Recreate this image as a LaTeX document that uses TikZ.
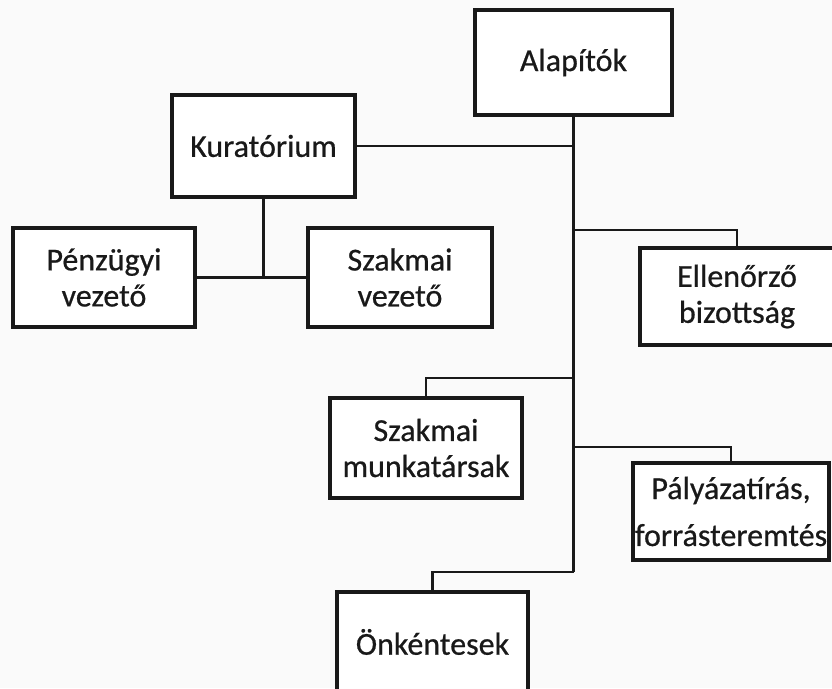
\documentclass[tikz,border=0pt]{standalone}
\usepackage{fontspec}
\setmainfont{Carlito}
\newfontfamily\lblfont{Carlito}[FakeBold=0.6]
\begin{document}
\begin{tikzpicture}[x=1pt,y=-1pt,
  box/.style={draw=black!90, line width=3.4pt, fill=white, rectangle, inner sep=0pt,
    align=center, font=\lblfont\fontsize{32}{36}\selectfont, text=black!90},
  conn/.style={draw=black!90, line width=2.6pt}]
\useasboundingbox (0,0) rectangle (832,688);
\clip (0,0) rectangle (832,688);
\fill[white!96!gray] (0,0) rectangle (832,688);
% nodes
\node[box, minimum width=197pt, minimum height=105pt] (alap) at (573.5,62.5) {Alapítók};
\node[box, minimum width=183pt, minimum height=102pt] (kur) at (263.5,146) {Kuratórium};
\node[box, minimum width=182pt, minimum height=99pt] (penz) at (104,277.5) {Pénzügyi\\vezető};
\node[box, minimum width=184pt, minimum height=99pt] (szv) at (400,277.5) {Szakmai\\vezető};
\node[box, minimum width=194pt, minimum height=97pt] (ell) at (737,296.5) {Ellenőrző\\bizottság};
\node[box, minimum width=192pt, minimum height=100pt] (szm) at (426,448) {Szakmai\\munkatársak};
\node[box, minimum width=196pt, minimum height=97pt] (paly) at (731,511.5) {Pályázatírás,\\[11pt]forrásteremtés};
\node[box, minimum width=191pt, minimum height=100pt] (onk) at (432.5,642) {Önkéntesek};
% trunk junctions
\coordinate (jk) at (573.5,146);
\coordinate (je) at (573.5,230);
\coordinate (js) at (573.5,378);
\coordinate (jp) at (573.5,447);
\coordinate (jo) at (573.5,572);
\coordinate (kj) at (263.5,277.5);
% connectors
\draw[conn] (alap.south) -- (jo);
\draw[conn] (kur.east) -- (jk);
\draw[conn] (kur.south) -- (kj);
\draw[conn] (penz.east) -- (kj) -- (szv.west);
\draw[conn] (je) -| (ell.north);
\draw[conn] (js) -| (szm.north);
\draw[conn] (jp) -| (paly.north);
\draw[conn] (jo) -| (onk.north);
\end{tikzpicture}
\end{document}
